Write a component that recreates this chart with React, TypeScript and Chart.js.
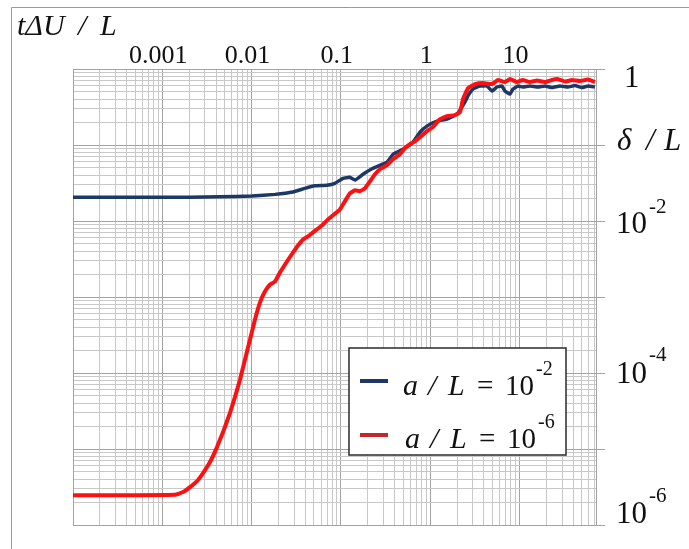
import React, { useEffect, useRef } from 'react';
import { Chart, registerables } from 'chart.js';

Chart.register(...registerables);

// ---- data ----
const blueLabel = 'a / L = 10^-2';
const blueX = [1e-4, 5e-4, 2e-3, 4.4e-3, 0.0101, 0.0183, 0.0291, 0.0396, 0.0513, 0.0698, 0.0859, 0.1055, 0.126, 0.144, 0.177, 0.229, 0.328, 0.384, 0.495, 0.641, 0.769, 0.92, 1.19, 1.54, 2.0, 2.45, 2.7, 3.01, 3.61, 4.33, 4.92, 5.6, 6.37, 6.88, 7.83, 8.46, 9.62, 10.9, 13.1, 16.1, 19.3, 23.1, 28.4, 34.9, 41.9, 50.1, 58.5, 70];
const blueY = [0.0205, 0.0205, 0.0205, 0.0208, 0.0213, 0.0224, 0.0241, 0.0269, 0.029, 0.0295, 0.0313, 0.0365, 0.0376, 0.0346, 0.0412, 0.0494, 0.0593, 0.0756, 0.088, 0.109, 0.148, 0.177, 0.206, 0.219, 0.255, 0.367, 0.46, 0.545, 0.597, 0.597, 0.513, 0.579, 0.597, 0.513, 0.468, 0.545, 0.597, 0.579, 0.597, 0.579, 0.597, 0.57, 0.597, 0.579, 0.606, 0.57, 0.597, 0.579];

const redLabel = 'a / L = 10^-6';
const redX = [1e-4, 5e-4, 1.39e-3, 1.71e-3, 2.04e-3, 2.45e-3, 2.86e-3, 3.42e-3, 4.1e-3, 4.79e-3, 5.73e-3, 6.52e-3, 7.41e-3, 8.43e-3, 9.59e-3, 0.0109, 0.0124, 0.0141, 0.0161, 0.0183, 0.0208, 0.0249, 0.0291, 0.0331, 0.0377, 0.0429, 0.0488, 0.0555, 0.0631, 0.0718, 0.0817, 0.0977, 0.111, 0.126, 0.144, 0.164, 0.186, 0.212, 0.241, 0.274, 0.328, 0.383, 0.459, 0.522, 0.594, 0.676, 0.769, 0.921, 1.07, 1.29, 1.54, 1.9, 2.16, 2.33, 2.65, 3.18, 3.9, 4.92, 5.74, 6.88, 7.83, 9.38, 10.9, 13.1, 15.7, 19.3, 23.1, 26.3, 32.4, 38.7, 47.6, 58.5, 70];
const redY = [2.47e-6, 2.47e-6, 2.5e-6, 2.71e-6, 3.15e-6, 3.79e-6, 4.82e-6, 6.73e-6, 1.06e-5, 1.67e-5, 2.98e-5, 4.85e-5, 8.13e-5, 1.49e-4, 2.74e-4, 5.03e-4, 8.43e-4, 1.18e-3, 1.46e-3, 1.6e-3, 2.1e-3, 2.93e-3, 3.85e-3, 4.77e-3, 5.72e-3, 6.26e-3, 7.08e-3, 7.98e-3, 9.02e-3, 0.0105, 0.0119, 0.0142, 0.0182, 0.0231, 0.0254, 0.0247, 0.0269, 0.0333, 0.0412, 0.048, 0.0542, 0.065, 0.0756, 0.0908, 0.1025, 0.112, 0.127, 0.152, 0.172, 0.219, 0.24, 0.247, 0.271, 0.4, 0.56, 0.634, 0.653, 0.634, 0.716, 0.674, 0.738, 0.674, 0.716, 0.674, 0.705, 0.674, 0.716, 0.738, 0.684, 0.716, 0.695, 0.727, 0.674];

const xMin = 1e-4;
const xMax = 72;
const yMin = 1e-6;
const yMax = 1;
const xTickValues = [0.001, 0.01, 0.1, 1, 10];
const xTickLabels = ['0.001', '0.01', '0.1', '1', '10'];
const yTickValues = [1, 1e-2, 1e-4, 1e-6];
const yTickExps = ['', '-2', '-4', '-6'];
const titleText = ['tΔU', '/', 'L'];
const yAxisText = ['δ', '/', 'L'];

const BLUE = '#1d3766';
const RED = '#ff1010';
const LEGEND_RED = '#c4262c';
const SERIF = '"Liberation Serif"';

const isDecade = (v: number) => Math.abs(Math.log10(v) - Math.round(Math.log10(v))) < 1e-9;

function logTicks(min: number, max: number) {
  const ticks: { value: number }[] = [];
  for (let e = Math.floor(Math.log10(min)); e <= Math.ceil(Math.log10(max)); e++) {
    for (let m = 1; m <= 9; m++) {
      const v = m * Math.pow(10, e);
      if (v >= min * 0.999999 && v <= max * 1.000001) ticks.push({ value: v });
    }
  }
  return ticks;
}

const gridColor = (ctx: any) => (ctx.tick && isDecade(ctx.tick.value) ? '#a3a3a3' : '#c8c8c8');

function drawPow(ctx: CanvasRenderingContext2D, base: string, exp: string, x: number, baseline: number, size: number, supSize: number, supRise: number) {
  ctx.font = `${size}px ${SERIF}`;
  ctx.fillText(base, x, baseline);
  const w = ctx.measureText(base).width;
  if (exp) {
    ctx.font = `${supSize}px ${SERIF}`;
    ctx.fillText(exp, x + w + 2, baseline - supRise);
  }
}

const decorPlugin = {
  id: 'decor',
  beforeDatasetsDraw(chart: any) {
    const { ctx, chartArea: a } = chart;
    ctx.save();
    ctx.strokeStyle = '#a3a3a3';
    ctx.lineWidth = 1;
    ctx.strokeRect(Math.round(a.left) + 0.5, Math.round(a.top) + 0.5, Math.round(a.right - a.left), Math.round(a.bottom - a.top));
    const ys = chart.scales.y;
    ctx.beginPath();
    for (let e = -6; e <= 0; e++) {
      const py = Math.round(ys.getPixelForValue(Math.pow(10, e))) + 0.5;
      ctx.moveTo(a.right, py);
      ctx.lineTo(a.right + 9, py);
    }
    ctx.stroke();
    ctx.restore();
  },
  afterDraw(chart: any) {
    const { ctx } = chart;
    const xs = chart.scales.x;
    ctx.save();
    ctx.strokeStyle = '#9a9a9a';
    ctx.lineWidth = 1;
    ctx.beginPath();
    ctx.moveTo(11.5, 549);
    ctx.lineTo(11.5, 7.5);
    ctx.lineTo(689, 7.5);
    ctx.stroke();

    ctx.fillStyle = '#111';
    ctx.textBaseline = 'alphabetic';
    ctx.font = `italic 30px ${SERIF}`;
    ctx.textAlign = 'left';
    ctx.fillText(titleText[0], 17, 35);
    ctx.fillText(titleText[1], 78, 35);
    ctx.fillText(titleText[2], 100, 35);

    ctx.font = `26px ${SERIF}`;
    ctx.textAlign = 'center';
    xTickValues.forEach((v, i) => {
      ctx.fillText(xTickLabels[i], xs.getPixelForValue(v) - 4, 63);
    });

    ctx.textAlign = 'left';
    const yBase = [87, 233, 383, 523];
    const supBase = [0, 213, 361, 502];
    yTickValues.forEach((v, i) => {
      if (!yTickExps[i]) {
        ctx.font = `31px ${SERIF}`;
        ctx.fillText('1', 624, yBase[i]);
      } else {
        drawPow(ctx, '10', yTickExps[i], 616, yBase[i], 31, 21, yBase[i] - supBase[i]);
      }
    });
    ctx.font = `italic 31px ${SERIF}`;
    ctx.fillText(yAxisText[0], 617, 150);
    ctx.fillText(yAxisText[1], 646, 150);
    ctx.fillText(yAxisText[2], 664, 150);

    const lx = 349, ly = 348, lw = 217, lh = 107;
    ctx.fillStyle = '#fff';
    ctx.fillRect(lx, ly, lw, lh);
    ctx.strokeStyle = '#2a2a2a';
    ctx.lineWidth = 1.5;
    ctx.strokeRect(lx, ly, lw, lh);
    const rows = [
      { color: BLUE, exp: blueLabel.split('^')[1], lineY: 381, base: 395, sx: 403 },
      { color: LEGEND_RED, exp: redLabel.split('^')[1], lineY: 435, base: 448, sx: 405 },
    ];
    rows.forEach((r) => {
      ctx.strokeStyle = r.color;
      ctx.lineWidth = 4;
      ctx.beginPath();
      ctx.moveTo(360, r.lineY);
      ctx.lineTo(388, r.lineY);
      ctx.stroke();
      ctx.fillStyle = '#111';
      ctx.font = `italic 30px ${SERIF}`;
      ctx.fillText('a', r.sx, r.base);
      ctx.fillText('/', r.sx + 25, r.base);
      ctx.fillText('L', r.sx + 45, r.base);
      ctx.font = `29px ${SERIF}`;
      ctx.fillText('=', r.sx + 74, r.base);
      drawPow(ctx, '10', r.exp, r.sx + 102, r.base, 29, 20, 20);
    });
    ctx.restore();
  },
};

export default function App() {
  const ref = useRef<HTMLCanvasElement>(null);
  useEffect(() => {
    document.body.style.margin = '0';
    const canvas = ref.current!;
    let alive = true;
    const chart = new Chart(canvas, {
      type: 'line',
      data: {
        datasets: [
          {
            label: redLabel,
            data: redX.map((x, i) => ({ x, y: redY[i] })),
            borderColor: RED,
            borderWidth: 4,
            pointRadius: 0,
            tension: 0.1,
            fill: false,
          },
          {
            label: blueLabel,
            data: blueX.map((x, i) => ({ x, y: blueY[i] })),
            borderColor: BLUE,
            borderWidth: 3.5,
            pointRadius: 0,
            tension: 0.1,
            fill: false,
          },
        ],
      },
      options: {
        animation: false,
        responsive: false,
        devicePixelRatio: 1,
        layout: { padding: { left: 73, top: 69, right: 93, bottom: 24 } },
        plugins: { legend: { display: false }, tooltip: { enabled: false }, title: { display: false } },
        scales: {
          x: {
            type: 'logarithmic',
            min: xMin,
            max: xMax,
            afterBuildTicks: (axis: any) => { axis.ticks = logTicks(xMin, xMax); },
            afterFit: (s: any) => { s.height = 0; },
            ticks: { display: false },
            grid: { color: gridColor, lineWidth: 1, drawTicks: false },
            border: { display: false },
          },
          y: {
            type: 'logarithmic',
            min: yMin,
            max: yMax,
            afterBuildTicks: (axis: any) => { axis.ticks = logTicks(yMin, yMax); },
            afterFit: (s: any) => { s.width = 0; },
            ticks: { display: false },
            grid: { color: gridColor, lineWidth: 1, drawTicks: false },
            border: { display: false },
          },
        },
      },
      plugins: [decorPlugin],
    } as any);
    if ((document as any).fonts) {
      document.fonts.ready.then(() => { if (alive) chart.draw(); });
    }
    return () => { alive = false; chart.destroy(); };
  }, []);
  return (
    <div style={{ width: 689, height: 549, background: '#fff' }}>
      <canvas ref={ref} width={689} height={549} style={{ display: 'block' }} />
    </div>
  );
}
